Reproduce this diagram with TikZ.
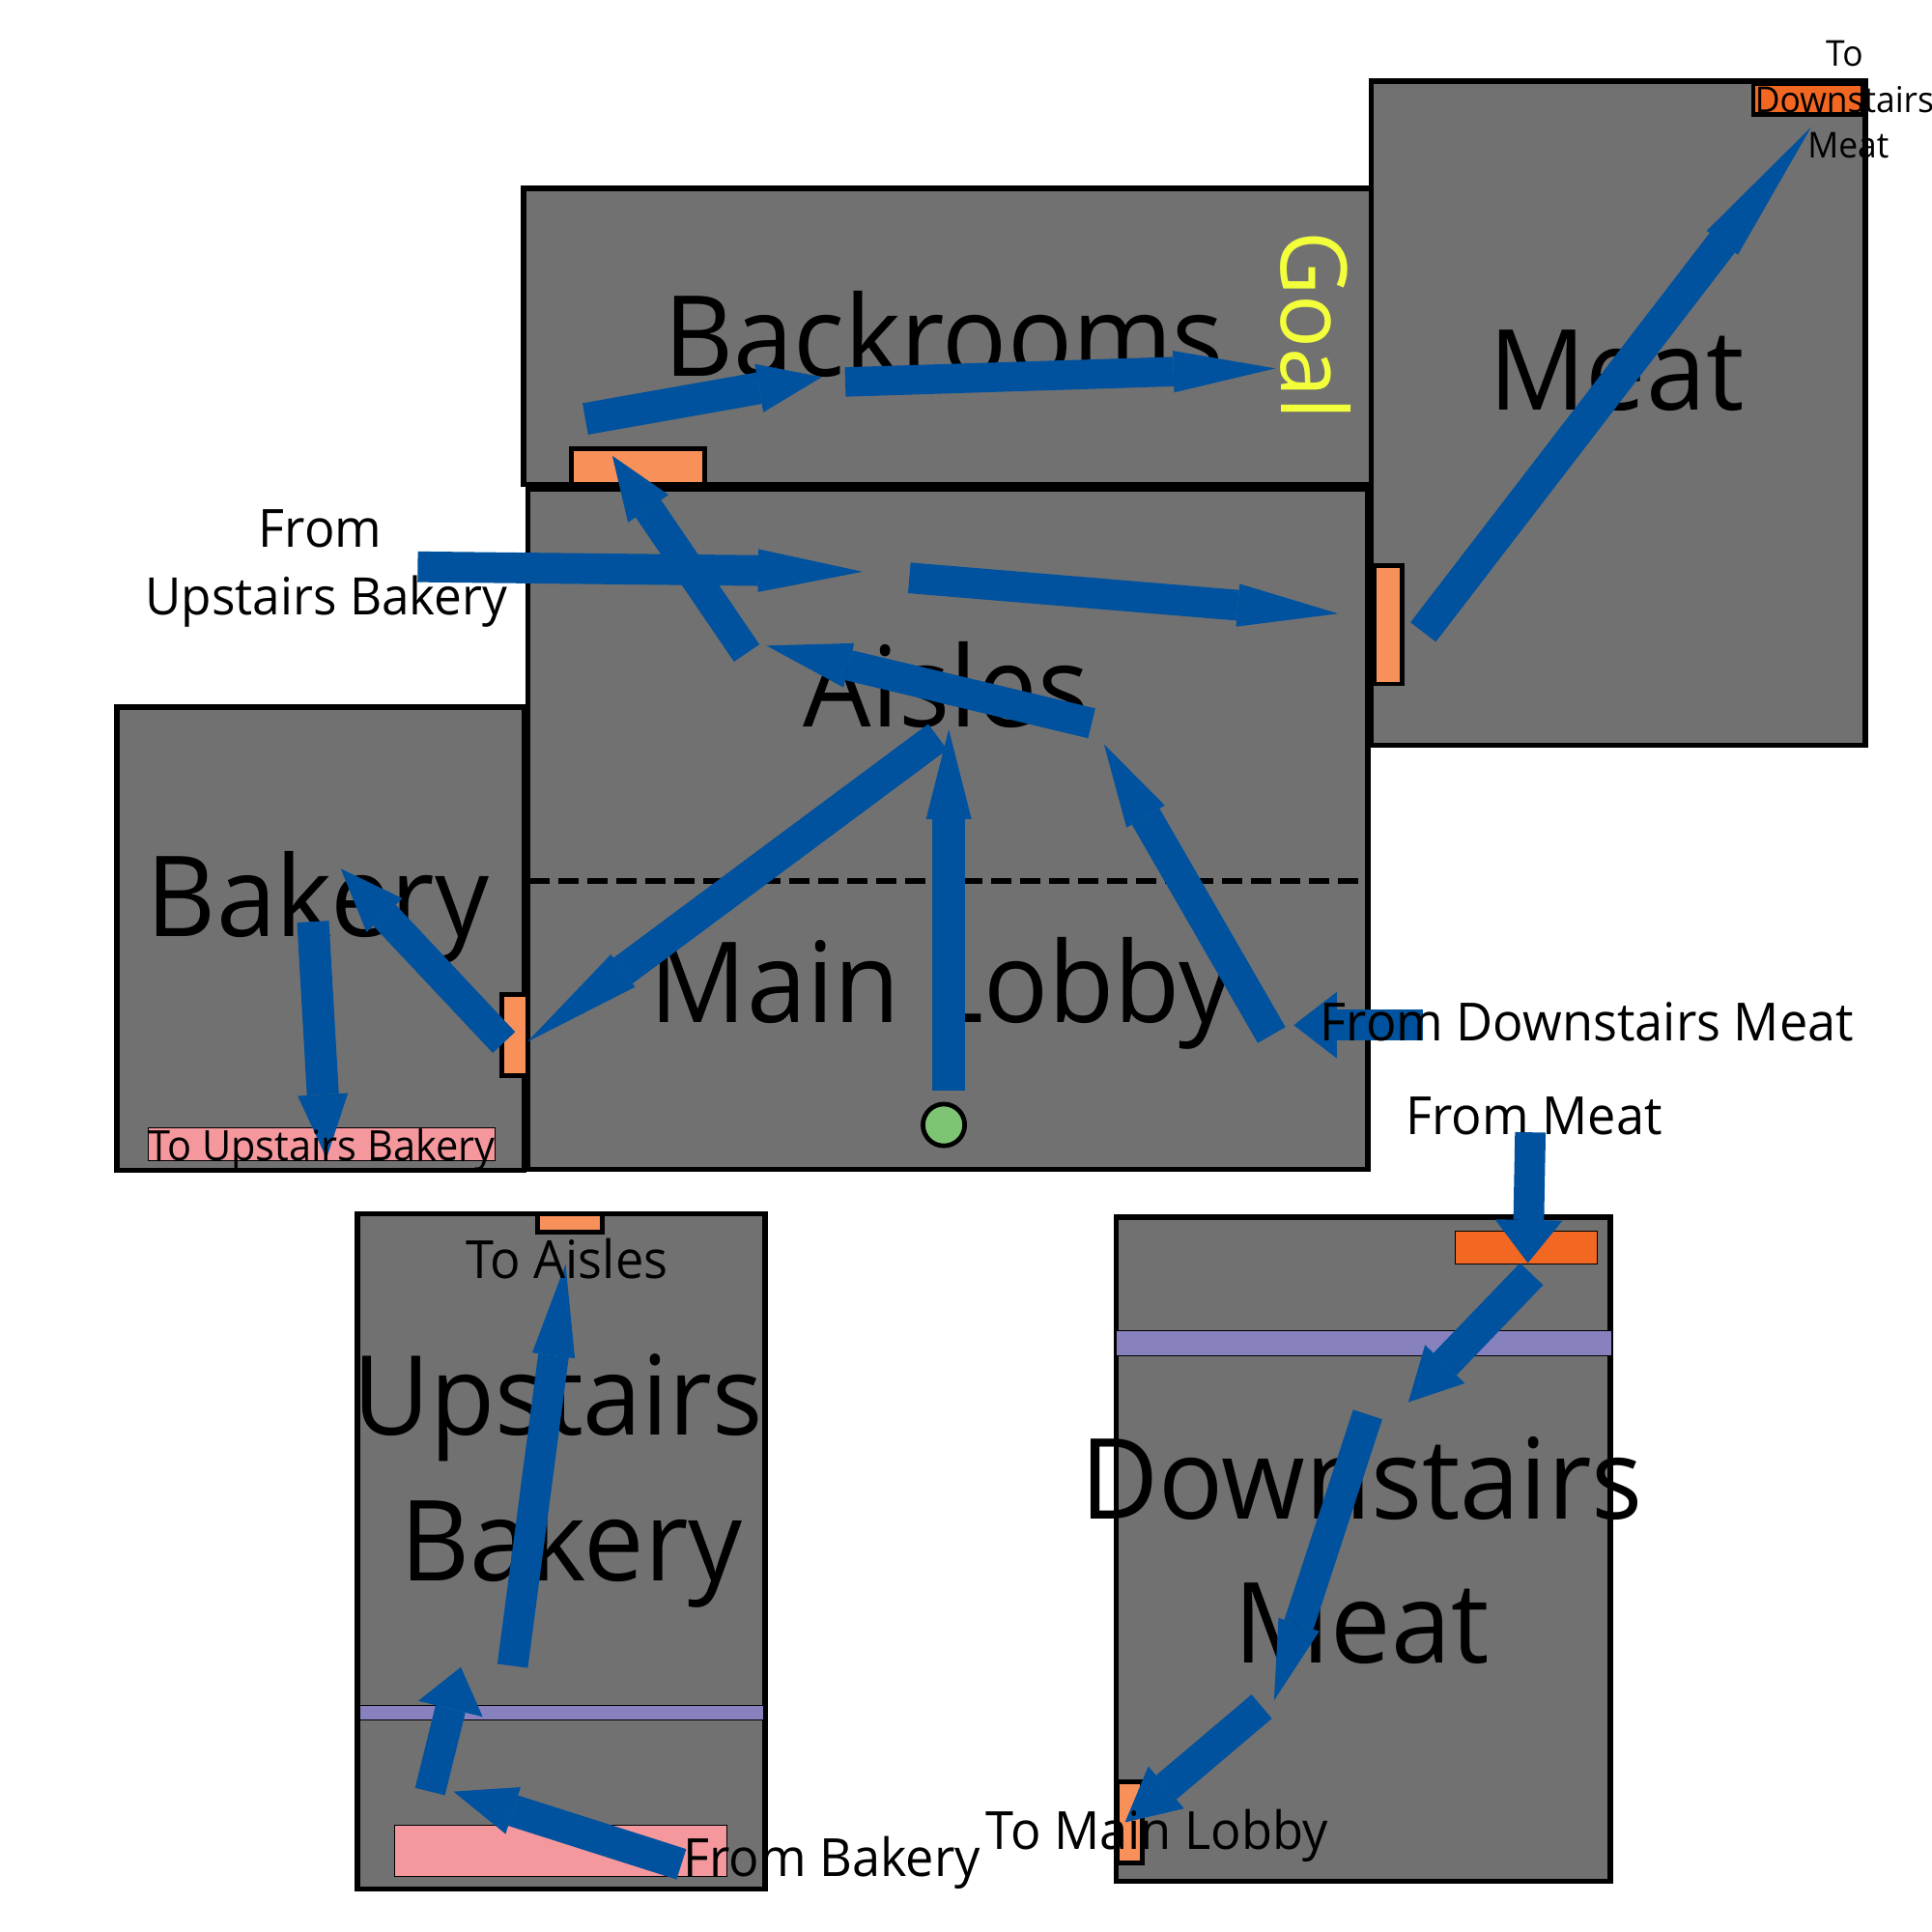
\documentclass[tikz,border=0pt]{standalone}
\usepackage{fontspec}
\setmainfont[FakeStretch=0.96]{Open Sans}
\usetikzlibrary{arrows.meta}
\definecolor{roomgrey}{HTML}{717171}
\definecolor{flowblue}{HTML}{00529E}
\definecolor{doorlight}{HTML}{F79059}
\definecolor{doordeep}{HTML}{F26722}
\definecolor{pinkzone}{HTML}{F4989D}
\definecolor{purplezone}{HTML}{8781BD}
\definecolor{startgreen}{HTML}{7DC473}
\definecolor{goalyellow}{HTML}{F2FF3A}
\tikzset{
  x=0.012755cm,y=-0.012755cm,
  room/.style={draw=black,fill=roomgrey,line width=1.55pt,line join=miter},
  door/.style={draw=black,fill=doorlight,line width=1.35pt},
  zone/.style={draw=black,line width=0.3pt},
  flow/.style n args={3}{draw=flowblue,line cap=butt,line width=#1*0.3616pt,
    -{Triangle[length=#3pt,width=#2pt,scale=0.3616,line width=0pt,fill=flowblue]}},
  big/.style={anchor=base,inner sep=0,font=\fontsize{33}{33}\selectfont},
  med/.style={anchor=base,inner sep=0,font=\fontsize{15.5}{15.5}\selectfont},
}
\begin{document}
\begin{tikzpicture}
\useasboundingbox (0,0) rectangle (1568,1568);
% rooms
\draw[room] (425,153) rectangle (1113,393.2);
\draw[room] (1113,66) rectangle (1514,605);
\draw[room] (428.5,396.9) rectangle (1110,949);
\draw[room] (95,574) rectangle (425.4,950);
\draw[room] (290,985) rectangle (621,1533);
\draw[room] (906,988) rectangle (1307,1527);
% doors and zones
\draw[door] (464,364) rectangle (572,393);
\draw[door] (1115,459) rectangle (1138,555);
\draw[door] (407.4,807) rectangle (428,873);
\draw[door,fill=doordeep] (1423,68) rectangle (1512,93);
\draw[door] (436,985) rectangle (489,1000);
\draw[door] (907,1446) rectangle (927,1512);
\draw[zone,fill=pinkzone] (120,915) rectangle (402,942);
\draw[zone,fill=pinkzone] (320,1481) rectangle (590,1523);
\draw[zone,fill=purplezone] (292,1384) rectangle (620,1396);
\draw[zone,fill=purplezone] (906,1080) rectangle (1308,1100);
\draw[zone,fill=doordeep] (1181,999) rectangle (1296,1026);
% divider
\coordinate (divL) at (430,715);
\coordinate (divR) at (1108,715);
\draw[black,line width=1.6pt,dash pattern=on 5.9pt off 2.6pt] (divL) -- (divR);
% start
\node[circle,draw=black,fill=startgreen,line width=1.35pt,minimum size=34*0.3616pt,inner sep=0] (start) at (766,913) {};
% large labels
\node[big] (tBack) at (766,305) {Backrooms};
\node[big] (tMeat) at (1312,333) {Meat};
\node[big] (tAisles) at (768,590) {Aisles};
\node[big] (tLobby) at (764,830) {Main Lobby};
\node[big] (tBakery) at (258,760) {Bakery};
\node[big,font=\fontsize{32.5}{32.5}\selectfont] (tUp) at (453,1165) {Upstairs};
\node[big] (tUpB) at (464,1283) {Bakery};
\node[big] (tDown) at (1105,1233) {Downstairs};
\node[big] (tDownM) at (1105,1350) {Meat};
\node[anchor=base west,inner sep=0,rotate=-90,text=goalyellow,font=\fontsize{27}{27}\selectfont] (tGoal) at (1040,187) {Goal};
\node[med] (tFromMeat) at (1245,921) {From Meat};
% flows
\coordinate (a1) at (475,340); \coordinate (b1) at (667,306);
\draw[flow={26}{40}{52}] (a1) -- (b1);
\coordinate (a2) at (686,310); \coordinate (b2) at (1035,299);
\draw[flow={24}{34}{83}] (a2) -- (b2);
\coordinate (a3) at (339,460); \coordinate (b3) at (700,464);
\draw[flow={25}{35}{85}] (a3) -- (b3);
\coordinate (a4) at (738,469); \coordinate (b4) at (1086,498);
\draw[flow={25}{35}{82}] (a4) -- (b4);
\coordinate (a5) at (1155,513); \coordinate (b5) at (1470,103);
\draw[flow={26}{32}{119}] (a5) -- (b5);
\coordinate (a6) at (606,530); \coordinate (b6) at (497,370);
\draw[flow={25}{40}{52}] (a6) -- (b6);
\coordinate (a7) at (886,587); \coordinate (b7) at (622,524);
\draw[flow={25}{37}{69}] (a7) -- (b7);
\coordinate (a8) at (761,598); \coordinate (b8) at (428,845.5);
\draw[flow={26}{33}{97}] (a8) -- (b8);
\coordinate (a9) at (770,885); \coordinate (b9) at (770,592);
\draw[flow={27}{37}{73}] (a9) -- (b9);
\coordinate (a10) at (1032,840); \coordinate (b10) at (896,604);
\draw[flow={26}{36}{68}] (a10) -- (b10);
\coordinate (a11) at (1155,832); \coordinate (b11) at (1050,832);
\draw[flow={25}{54}{35}] (a11) -- (b11);
\coordinate (a12) at (409,846); \coordinate (b12) at (276.5,705);
\draw[flow={25}{40}{52}] (a12) -- (b12);
\coordinate (a13) at (254,748); \coordinate (b13) at (265,940);
\draw[flow={26}{41}{52}] (a13) -- (b13);
\coordinate (a14) at (1242,919); \coordinate (b14) at (1240,1025);
\draw[flow={25}{55}{35}] (a14) -- (b14);
\coordinate (a15) at (1243,1034); \coordinate (b15) at (1143,1138);
\draw[flow={26}{45}{43}] (a15) -- (b15);
\coordinate (a16) at (1110,1148); \coordinate (b16) at (1034,1380);
\draw[flow={25}{35}{65}] (a16) -- (b16);
\coordinate (a17) at (1024,1385); \coordinate (b17) at (913,1479);
\draw[flow={25.6}{45}{44}] (a17) -- (b17);
\coordinate (a18) at (553,1513); \coordinate (b18) at (368,1454);
\draw[flow={26}{40}{51}] (a18) -- (b18);
\coordinate (a19) at (349,1454); \coordinate (b19) at (374,1353);
\draw[flow={25}{54}{35}] (a19) -- (b19);
\coordinate (a20) at (416,1352); \coordinate (b20) at (459,1026);
\draw[flow={25}{35}{75}] (a20) -- (b20);
% small labels
\node[med] (tF1) at (260,444) {From};
\node[med,font=\fontsize{15.2}{15.2}\selectfont] (tF2) at (265,499) {Upstairs Bakery};
\node[med] (tFD) at (1288,845) {From Downstairs Meat};
\node[med] (tFB) at (675,1523) {From Bakery};
\node[med] (tTM) at (939,1501) {To Main Lobby};
\node[med] (tTA) at (460,1038) {To Aisles};
\node[med,font=\fontsize{12.3}{12.3}\selectfont] (tTU) at (261,942) {To Upstairs Bakery};
\node[med,font=\fontsize{10.5}{10.5}\selectfont] (tD1) at (1497,54) {To};
\node[med,font=\fontsize{10.5}{10.5}\selectfont] (tD2) at (1497,91) {Downstairs};
\node[med,font=\fontsize{10.5}{10.5}\selectfont] (tD3) at (1500,128) {Meat};
\end{tikzpicture}
\end{document}
